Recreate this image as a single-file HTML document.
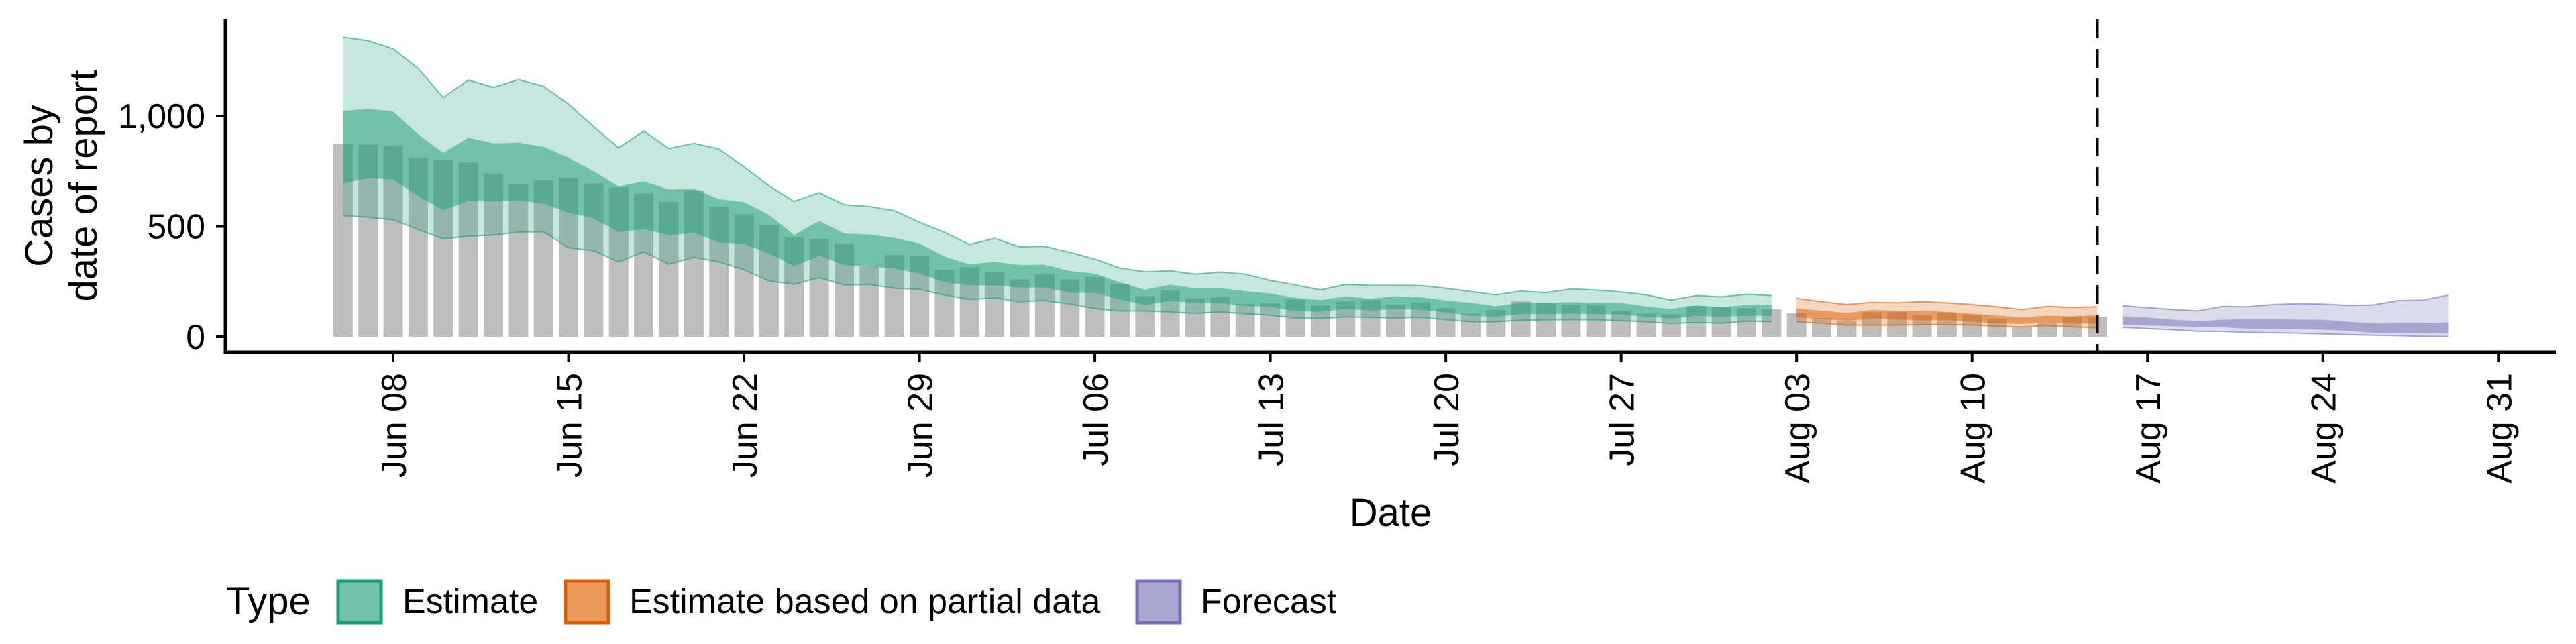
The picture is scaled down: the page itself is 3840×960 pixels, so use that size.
<!DOCTYPE html>
<html><head><meta charset="utf-8"><style>
html,body{margin:0;padding:0;background:#fff;}
svg{display:block;font-family:"Liberation Sans",Arial,sans-serif;}
</style></head><body>
<svg id="chart" width="3840" height="960" viewBox="0 0 3840 960" xmlns="http://www.w3.org/2000/svg">
<g id="bars"></g>
<g id="ribbons"></g>
<g id="axes"></g>
<text transform="translate(78,277) rotate(-90)" text-anchor="middle" font-size="58">Cases by</text>
<text transform="translate(144,277) rotate(-90)" text-anchor="middle" font-size="58">date of report</text>
<text x="2073" y="784" text-anchor="middle" font-size="58">Date</text>
<g>
<text x="337" y="916" font-size="58">Type</text>
<rect x="504" y="866" width="64" height="62" fill="#70c2aa" stroke="#1b9e77" stroke-width="5"/>
<text x="600" y="914" font-size="52">Estimate</text>
<rect x="843" y="866" width="64" height="62" fill="#eb9a5c" stroke="#d95f02" stroke-width="5"/>
<text x="938" y="914" font-size="52">Estimate based on partial data</text>
<rect x="1695" y="866" width="64" height="62" fill="#aaa6d2" stroke="#7570b3" stroke-width="5"/>
<text x="1790" y="914" font-size="52">Forecast</text>
</g>
</svg>
<script>
const reported = [874,871,866,811,799,789,738,691,708,719,695,677,649,612,663,590,555,505,450,444,422,
319,370,367,303,315,294,260,286,260,271,237,184,209,174,180,149,152,169,142,160,166,146,
157,130,105,122,160,154,145,142,117,105,102,139,134,130,125,107,85,70,112,113,97,
110,98,83,45,63,88,91];
const estOuterUp = [1358,1342,1305,1216,1084,1163,1130,1165,1135,1054,952,856,932,853,876,851,770,684,613,653,598,
590,571,519,473,418,446,407,410,382,352,311,294,299,284,293,284,255,235,213,237,233,233,
232,220,205,190,207,200,217,212,203,190,166,187,181,193,187];
const estInnerUp = [1023,1033,1021,917,833,902,876,879,861,811,750,681,704,667,671,623,610,552,461,525,468,
463,448,423,363,328,339,325,326,298,286,247,213,236,220,220,207,196,176,166,183,172,183,
179,164,154,138,154,154,157,154,154,136,126,142,134,144,146];
const estInnerLow = [694,719,712,638,572,615,613,618,603,562,537,474,488,461,471,428,420,377,319,367,324,
319,309,286,247,233,233,223,223,199,199,169,144,162,154,152,139,136,116,113,126,119,126,
122,111,95,91,103,103,105,103,101,91,83,95,91,95,95];
const estOuterLow = [549,542,530,486,444,456,461,474,476,403,390,339,385,329,360,339,304,253,238,268,235,
237,220,215,189,169,176,159,164,149,128,117,117,113,106,113,105,98,85,83,90,88,85,
88,78,68,68,75,77,78,77,73,68,60,65,61,71,68];
const partOuterUp = [174,159,146,156,154,159,154,146,136,123,138,133,136];
const partInnerUp = [129,118,108,122,118,118,113,105,96,88,96,93,98];
const partInnerLow = [88,81,71,83,78,75,76,68,61,58,63,60,60];
const partOuterLow = [68,61,53,53,53,55,55,53,48,45,51,45,41];
const fcOuterUp = [141,132,124,117,138,136,146,150,148,142,144,164,166,189];
const fcInnerUp = [93,87,78,71,77,81,81,78,77,68,61,63,63,65];
const fcInnerLow = [55,51,48,45,43,37,36,34,32,27,18,18,15,15];
const fcOuterLow = [43,37,32,25,24,20,18,16,13,10,7,5,2,1];
const yTicks = [0,500,1000];
const yTickLabels = ["0","500","1,000"];
const xTickDays = [2,9,16,23,30,37,44,51,58,65,72,79,86];
const xTickLabels = ["Jun 08","Jun 15","Jun 22","Jun 29","Jul 06","Jul 13","Jul 20","Jul 27","Aug 03","Aug 10","Aug 17","Aug 24","Aug 31"];
const estStart = 0, partStart = 58, fcStart = 71, forecastCutDay = 70;

const NS = "http://www.w3.org/2000/svg";
const X0 = 511.3, DX = 37.36, Y0 = 502, KY = 0.329;
function xs(d){ return X0 + d*DX; }
function ys(v){ return Y0 - v*KY; }
function mk(tag, attrs, parent){ const e=document.createElementNS(NS,tag); for(const k in attrs) e.setAttribute(k,attrs[k]); parent.appendChild(e); return e; }

const gb = document.getElementById('bars');
reported.forEach((v,i)=>{
  const r = mk('rect',{x:xs(i)-14.5,y:ys(v),width:29,height:v*KY,fill:'#bebebe'},gb);
  
  
});

const gr = document.getElementById('ribbons');
function ribbon(start, up, low, color, alpha, name, stroke){
  let pts=[];
  for(let i=0;i<up.length;i++) pts.push(xs(start+i)+','+ys(up[i]));
  for(let i=low.length-1;i>=0;i--) pts.push(xs(start+i)+','+ys(low[i]));
  const p = mk('polygon',{points:pts.join(' '),fill:color,'fill-opacity':alpha},gr);
  
  
  if(stroke){
    const l1 = mk('polyline',{points:up.map((v,i)=>xs(start+i)+','+ys(v)).join(' '),fill:'none',stroke:color,'stroke-opacity':0.6,'stroke-width':2},gr);
    
    
    const l2 = mk('polyline',{points:low.map((v,i)=>xs(start+i)+','+ys(v)).join(' '),fill:'none',stroke:color,'stroke-opacity':0.6,'stroke-width':2},gr);
    
    
  }
}
ribbon(estStart, estOuterUp, estOuterLow, '#1b9e77', 0.25, 'estimate-90-ribbon', true);
ribbon(estStart, estInnerUp, estInnerLow, '#1b9e77', 0.5, 'estimate-50-ribbon', false);
ribbon(partStart, partOuterUp, partOuterLow, '#d95f02', 0.25, 'partial-90-ribbon', true);
ribbon(partStart, partInnerUp, partInnerLow, '#d95f02', 0.5, 'partial-50-ribbon', false);
ribbon(fcStart, fcOuterUp, fcOuterLow, '#7570b3', 0.25, 'forecast-90-ribbon', true);
ribbon(fcStart, fcInnerUp, fcInnerLow, '#7570b3', 0.5, 'forecast-50-ribbon', false);

const ga = document.getElementById('axes');
const dl = mk('line',{x1:xs(forecastCutDay),x2:xs(forecastCutDay),y1:29,y2:525,stroke:'#000','stroke-width':4,'stroke-dasharray':'28,16'},ga);


const ya = mk('line',{x1:336,x2:336,y1:29,y2:527,stroke:'#000','stroke-width':5},ga);


const xa = mk('line',{x1:334,x2:3810,y1:525,y2:525,stroke:'#000','stroke-width':5},ga);


yTicks.forEach((v,i)=>{
  const t = mk('line',{x1:322,x2:336,y1:ys(v),y2:ys(v),stroke:'#000','stroke-width':4},ga);
  
  
  const tx = mk('text',{x:306,y:ys(v)+18,'text-anchor':'end','font-size':52},ga);
  tx.textContent = yTickLabels[i];
  
  
});
xTickDays.forEach((d,i)=>{
  const x = xs(d);
  const t = mk('line',{x1:x,x2:x,y1:525,y2:540,stroke:'#000','stroke-width':4},ga);
  
  
  const tx = mk('text',{transform:'translate('+(x+19)+',556) rotate(-90)','text-anchor':'end','font-size':52},ga);
  tx.textContent = xTickLabels[i];
  
  
});
</script>
</body></html>
